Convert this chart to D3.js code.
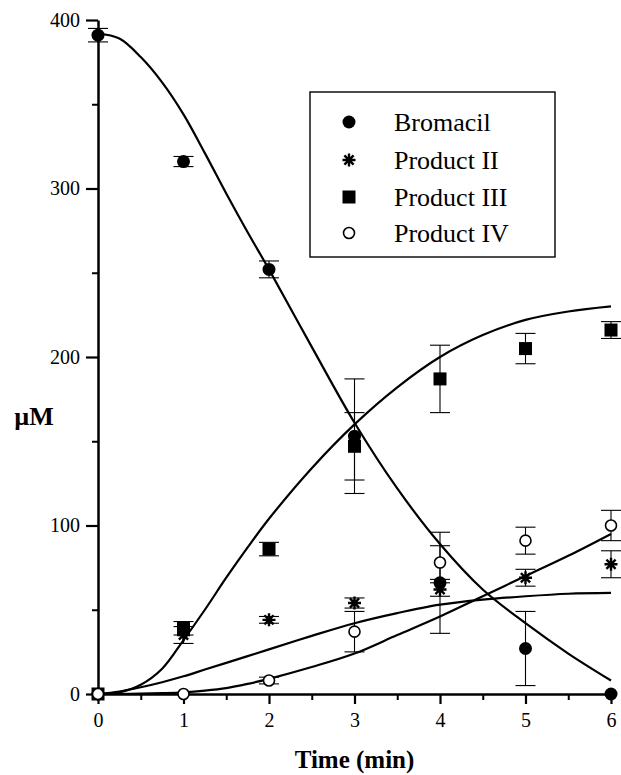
<!DOCTYPE html>
<html>
<head>
<meta charset="utf-8">
<script src="https://cdn.jsdelivr.net/npm/d3@7"></script>
<style>
  body { margin: 0; background: #fff; }
  svg { display: block; font-family: 'Liberation Serif', 'DejaVu Serif', serif; }
  .axis path, .axis line { stroke: #000; }
  .axis text { font-size: 20px; fill: #000; font-family: 'Liberation Serif', serif; }
</style>
</head>
<body>
<svg width="621" height="775"></svg>
<script>
// measured points (time in min, concentration in µM, error = half bar length)
const times = [0, 1, 2, 3, 4, 5, 6];
const bromacil = [391, 316, 252, 153, 66, 27, 0];
const bromacilErr = [4, 3, 5, 34, 30, 22, 0];
const product2 = [0, 35, 44, 54, 62, 69, 77];
const product2Err = [0, 5, 2, 3, 4, 5, 8];
const product3 = [0, 39, 86, 147, 187, 205, 216];
const product3Err = [0, 4, 4, 20, 20, 9, 5];
const product4 = [0, 0, 8, 37, 78, 91, 100];
const product4Err = [0, 0, 2, 12, 10, 8, 9];

// fitted curves
const fitTimes = [0, 0.25, 0.5, 0.75, 1, 1.25, 1.5, 1.75, 2, 2.5, 3, 3.5, 4, 4.5, 5, 5.5, 6];
const fitBromacil = [392, 389, 378, 363, 344, 321, 297, 274, 252, 206, 161, 122, 89, 62, 42, 24, 8];
const fitProduct3 = [0, 1, 5.5, 15, 32, 50, 69, 87, 104, 134, 160, 182, 200, 213, 222, 227, 230];
const fitProduct2 = [0, 1.5, 4, 7, 10.5, 14.5, 18.5, 22.5, 26.5, 34.5, 42, 48, 53, 56, 58, 59.5, 60];
const fitProduct4 = [0, 0, 0.2, 0.5, 1, 2, 3.5, 6, 9, 16, 24, 35, 46, 58, 70, 82, 95];

const legendLabels = ['Bromacil', 'Product II', 'Product III', 'Product IV'];
const xTicks = [0, 1, 2, 3, 4, 5, 6];
const xMinor = [0.5, 1.5, 2.5, 3.5, 4.5, 5.5];
const yTicks = [0, 100, 200, 300, 400];
const yMinor = [50, 150, 250, 350];

const svg = d3.select('svg');
const margin = {top: 20, right: 10, bottom: 81, left: 98};
const width = 621 - margin.left - margin.right;
const height = 775 - margin.top - margin.bottom;

const chart = svg.append('g')
  .attr('transform', `translate(${margin.left}, ${margin.top})`);

const x = d3.scaleLinear().domain([0, 6]).range([0, width]);
const y = d3.scaleLinear().domain([0, 400]).range([height, 0]);

// axes: minor ticks first, then major with labels
chart.append('g')
  .attr('class', 'axis')
  .attr('transform', `translate(0, ${height})`)
  .call(d3.axisBottom(x).tickValues(xMinor).tickSize(6).tickFormat(''))
  .call(g => g.selectAll('line').attr('stroke-width', 2))
  .call(g => g.select('.domain').remove());

chart.append('g')
  .attr('class', 'axis')
  .attr('transform', `translate(0, ${height})`)
  .call(d3.axisBottom(x).tickValues(xTicks).tickSize(10).tickSizeOuter(0).tickPadding(9).tickFormat(d3.format('d')))
  .call(g => g.selectAll('line').attr('stroke-width', 2.2))
  .call(g => g.select('.domain').attr('stroke-width', 2.5));

chart.append('g')
  .attr('class', 'axis')
  .call(d3.axisLeft(y).tickValues(yMinor).tickSize(6).tickFormat(''))
  .call(g => g.selectAll('line').attr('stroke-width', 2))
  .call(g => g.select('.domain').remove());

chart.append('g')
  .attr('class', 'axis')
  .call(d3.axisLeft(y).tickValues(yTicks).tickSize(12).tickSizeOuter(0).tickPadding(6).tickFormat(d3.format('d')))
  .call(g => g.selectAll('line').attr('stroke-width', 2.2))
  .call(g => g.select('.domain').attr('stroke-width', 2.5));

// error bars
const series = [
  {vals: bromacil, err: bromacilErr, type: 'circle'},
  {vals: product2, err: product2Err, type: 'asterisk'},
  {vals: product3, err: product3Err, type: 'square'},
  {vals: product4, err: product4Err, type: 'open'}
];

const capW = 10;
series.forEach(s => {
  const pts = times.map((t, i) => ({t, v: s.vals[i], e: s.err[i]})).filter(d => d.e > 0);
  const g = chart.append('g').attr('stroke', '#000').attr('stroke-width', 1.1);
  g.selectAll('.bar').data(pts).enter().append('line')
    .attr('x1', d => x(d.t)).attr('x2', d => x(d.t))
    .attr('y1', d => y(d.v + d.e)).attr('y2', d => y(d.v - d.e));
  g.selectAll('.capTop').data(pts).enter().append('line')
    .attr('x1', d => x(d.t) - capW).attr('x2', d => x(d.t) + capW)
    .attr('y1', d => y(d.v + d.e)).attr('y2', d => y(d.v + d.e));
  g.selectAll('.capBot').data(pts).enter().append('line')
    .attr('x1', d => x(d.t) - capW).attr('x2', d => x(d.t) + capW)
    .attr('y1', d => y(d.v - d.e)).attr('y2', d => y(d.v - d.e));
});

// fitted curves
const line = d3.line()
  .x(d => x(d[0]))
  .y(d => y(d[1]))
  .curve(d3.curveCatmullRom.alpha(0.5));

[fitBromacil, fitProduct3, fitProduct2, fitProduct4].forEach(arr => {
  chart.append('path')
    .datum(fitTimes.map((t, i) => [t, arr[i]]))
    .attr('fill', 'none')
    .attr('stroke', '#000')
    .attr('stroke-width', 2.2)
    .attr('d', line);
});

// markers
const drawMarker = (sel, type) => {
  if (type === 'circle') {
    sel.append('circle').attr('r', 6.5).attr('fill', '#000');
  } else if (type === 'open') {
    sel.append('circle').attr('r', 5.5).attr('fill', '#fff').attr('stroke', '#000').attr('stroke-width', 1.6);
  } else if (type === 'square') {
    sel.append('rect').attr('x', -6.5).attr('y', -6.5).attr('width', 13).attr('height', 13).attr('fill', '#000');
  } else {
    const r = 6.5, k = r * Math.SQRT1_2;
    sel.append('path')
      .attr('d', `M0,${-r}V${r}M${-r},0H${r}M${-k},${-k}L${k},${k}M${-k},${k}L${k},${-k}`)
      .attr('stroke', '#000').attr('stroke-width', 2.4).attr('fill', 'none');
  }
};

series.forEach(s => {
  times.forEach((t, i) => {
    const g = chart.append('g').attr('transform', `translate(${x(t)}, ${y(s.vals[i])})`);
    drawMarker(g, s.type);
  });
});

// legend
const legend = svg.append('g');
legend.append('rect')
  .attr('x', 310).attr('y', 92).attr('width', 245).attr('height', 165)
  .attr('fill', '#fff').attr('stroke', '#000').attr('stroke-width', 1.4);

const rowY = [122, 160, 197, 233];
legendLabels.forEach((label, i) => {
  const g = legend.append('g').attr('transform', `translate(349, ${rowY[i]})`);
  drawMarker(g, series[i].type);
  legend.append('text')
    .attr('x', 394).attr('y', rowY[i] + 9)
    .attr('font-size', 26)
    .text(label);
});

// axis titles
svg.append('text')
  .attr('x', 34).attr('y', 425)
  .attr('text-anchor', 'middle')
  .attr('font-size', 26)
  .attr('font-weight', 'bold')
  .text('µM');

svg.append('text')
  .attr('x', margin.left + width / 2).attr('y', 768)
  .attr('text-anchor', 'middle')
  .attr('font-size', 25)
  .attr('font-weight', 'bold')
  .text('Time (min)');
</script>
</body>
</html>
